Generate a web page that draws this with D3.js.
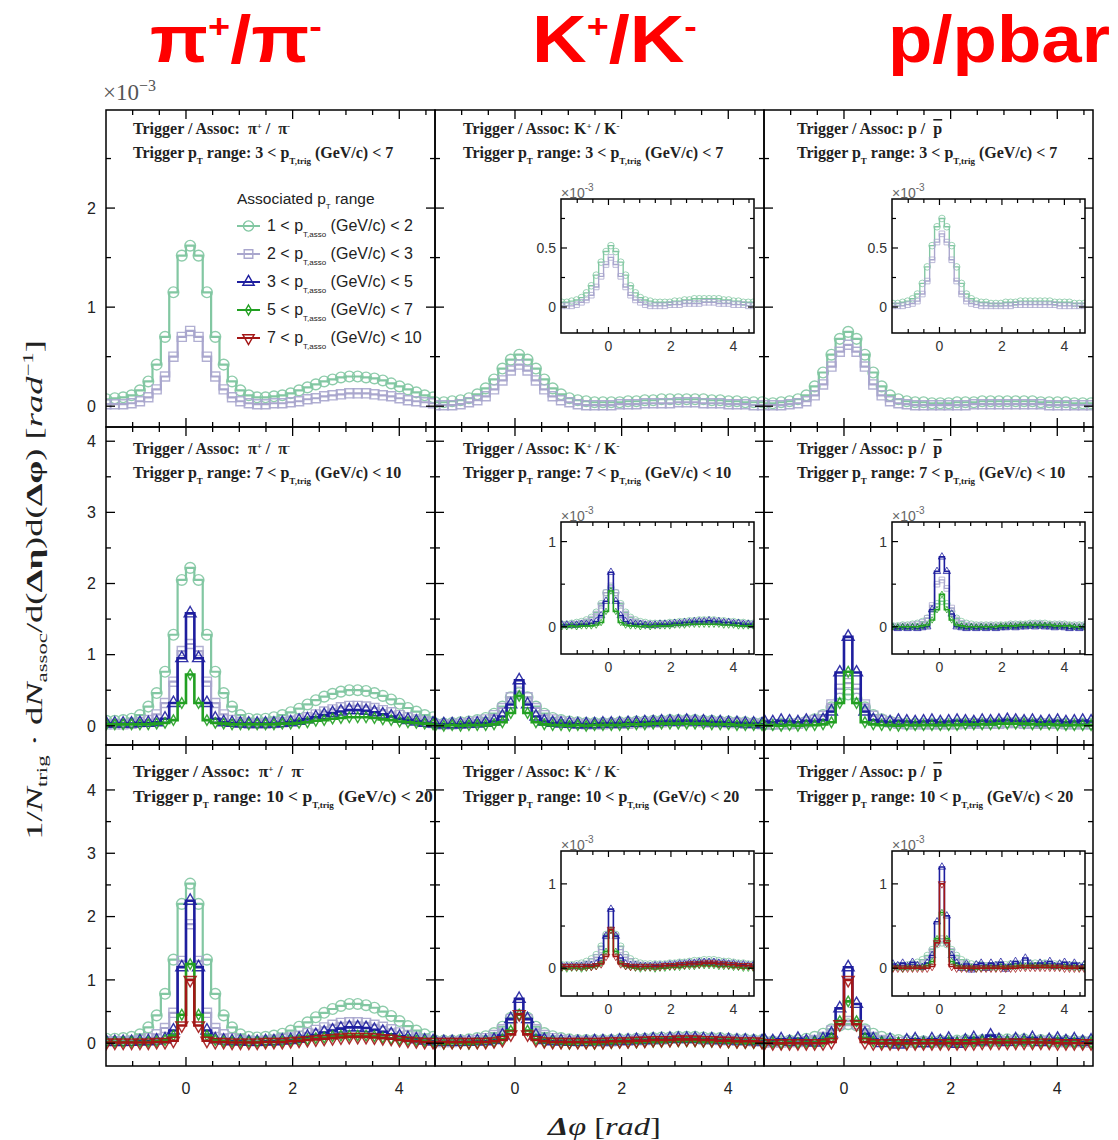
<!DOCTYPE html>
<html>
<head>
<meta charset="utf-8">
<script src="https://cdn.jsdelivr.net/npm/d3@7"></script>
<style>
  body { margin: 0; background: #fff; }
</style>
</head>
<body>
<div id="chart"></div>
<script>
// 40 bins of pi/20 in delta-phi, starting at -pi/2
var nBins = 40, binW = Math.PI / 20, phiMin = -Math.PI / 2;

// labels
var trigRanges = [["3", "7"], ["7", "10"], ["10", "20"]];
var assocRanges = [["1", "2"], ["2", "3"], ["3", "5"], ["5", "7"], ["7", "10"]];
var xTickLabels = [0, 2, 4];
var yTickLabels = [[0, 1, 2], [0, 1, 2, 3, 4], [0, 1, 2, 3, 4]];
var insetYTickLabels = [[0, 0.5], [0, 1], [0, 1]];

// ---- trigger 3-7 (x1e-3 rad^-1) ----
var pi37_a12 = [0.07,0.08,0.09,0.11,0.16,0.25,0.42,0.70,1.15,1.52,
                1.62,1.52,1.15,0.70,0.42,0.25,0.16,0.11,0.09,0.09,
                0.10,0.11,0.13,0.16,0.19,0.22,0.25,0.27,0.29,0.30,
                0.30,0.29,0.28,0.26,0.23,0.20,0.17,0.14,0.11,0.09];
var pi37_a23 = [0.02,0.02,0.02,0.03,0.05,0.09,0.17,0.30,0.50,0.70,
                0.76,0.70,0.50,0.30,0.17,0.09,0.05,0.03,0.02,0.02,
                0.03,0.03,0.04,0.05,0.07,0.08,0.10,0.11,0.12,0.13,
                0.13,0.13,0.12,0.11,0.10,0.08,0.06,0.05,0.04,0.03];
var k37_a12 = [0.04,0.04,0.05,0.06,0.08,0.12,0.18,0.27,0.38,0.47,
               0.52,0.47,0.38,0.27,0.18,0.12,0.08,0.06,0.05,0.04,
               0.04,0.04,0.04,0.05,0.05,0.06,0.06,0.07,0.07,0.07,
               0.07,0.07,0.07,0.06,0.06,0.05,0.05,0.04,0.04,0.04];
var k37_a23 = [0.01,0.01,0.01,0.02,0.04,0.06,0.10,0.17,0.26,0.36,
               0.42,0.36,0.26,0.17,0.10,0.06,0.04,0.02,0.01,0.01,
               0.01,0.01,0.02,0.02,0.02,0.03,0.03,0.03,0.03,0.04,
               0.04,0.04,0.03,0.03,0.03,0.02,0.02,0.02,0.01,0.01];
var p37_a12 = [0.03,0.03,0.04,0.05,0.07,0.11,0.20,0.34,0.52,0.68,
               0.75,0.68,0.52,0.34,0.20,0.11,0.07,0.05,0.04,0.04,
               0.03,0.03,0.03,0.04,0.04,0.04,0.05,0.05,0.05,0.05,
               0.05,0.05,0.05,0.04,0.04,0.04,0.04,0.03,0.03,0.03];
var p37_a23 = [0.01,0.01,0.01,0.02,0.03,0.05,0.11,0.22,0.40,0.55,
               0.62,0.55,0.40,0.22,0.11,0.05,0.03,0.02,0.01,0.01,
               0.01,0.01,0.01,0.01,0.01,0.02,0.02,0.02,0.02,0.02,
               0.02,0.02,0.02,0.02,0.01,0.01,0.01,0.01,0.01,0.01];

// ---- trigger 7-10 ----
var pi710_a12 = [0.07,0.07,0.08,0.10,0.15,0.27,0.46,0.76,1.28,2.05,
                 2.22,2.05,1.28,0.76,0.46,0.27,0.15,0.10,0.09,0.10,
                 0.12,0.15,0.19,0.24,0.30,0.36,0.41,0.45,0.48,0.50,
                 0.50,0.49,0.46,0.42,0.37,0.31,0.25,0.20,0.15,0.12];
var pi710_a23 = [0.02,0.02,0.02,0.03,0.05,0.08,0.16,0.32,0.62,1.05,
                 1.15,1.05,0.62,0.32,0.16,0.08,0.05,0.03,0.03,0.03,
                 0.04,0.05,0.07,0.09,0.12,0.16,0.20,0.23,0.26,0.28,
                 0.28,0.27,0.25,0.22,0.19,0.15,0.12,0.09,0.06,0.04];
var pi710_a35 = [0.03,0.03,0.03,0.03,0.04,0.04,0.05,0.10,0.32,0.95,
                 1.58,0.95,0.32,0.10,0.05,0.04,0.03,0.03,0.03,0.03,
                 0.03,0.04,0.05,0.07,0.09,0.12,0.15,0.18,0.20,0.22,
                 0.22,0.21,0.19,0.16,0.13,0.10,0.08,0.06,0.04,0.03];
var pi710_a57 = [0.02,0.02,0.02,0.02,0.02,0.02,0.03,0.04,0.08,0.32,
                 0.72,0.32,0.08,0.04,0.03,0.02,0.02,0.02,0.02,0.02,
                 0.02,0.03,0.03,0.04,0.05,0.07,0.08,0.10,0.11,0.12,
                 0.12,0.12,0.11,0.09,0.08,0.06,0.05,0.04,0.03,0.02];
var k710_a12 = [0.03,0.03,0.04,0.05,0.06,0.08,0.11,0.17,0.27,0.40,
                0.46,0.40,0.27,0.17,0.11,0.08,0.06,0.05,0.04,0.04,
                0.04,0.04,0.05,0.05,0.06,0.06,0.07,0.07,0.08,0.08,
                0.08,0.08,0.07,0.07,0.06,0.06,0.05,0.05,0.04,0.04];
var k710_a23 = [0.02,0.02,0.02,0.03,0.04,0.06,0.09,0.15,0.25,0.40,
                0.48,0.40,0.25,0.15,0.09,0.06,0.04,0.03,0.02,0.02,
                0.02,0.03,0.03,0.03,0.04,0.04,0.05,0.05,0.06,0.06,
                0.06,0.06,0.05,0.05,0.05,0.04,0.04,0.03,0.03,0.02];
var k710_a35 = [0.02,0.02,0.02,0.02,0.03,0.03,0.04,0.06,0.13,0.30,
                0.64,0.30,0.13,0.06,0.04,0.03,0.03,0.02,0.02,0.02,
                0.03,0.03,0.03,0.04,0.04,0.05,0.05,0.06,0.06,0.06,
                0.07,0.06,0.06,0.05,0.05,0.04,0.04,0.03,0.03,0.02];
var k710_a57 = [0.00,0.00,0.01,0.00,0.01,0.01,0.01,0.02,0.05,0.18,
                0.42,0.18,0.05,0.02,0.01,0.01,0.00,0.01,0.00,0.01,
                0.01,0.01,0.01,0.02,0.02,0.02,0.03,0.03,0.03,0.03,
                0.03,0.03,0.03,0.02,0.02,0.02,0.01,0.01,0.01,0.01];
var p710_a12 = [0.02,0.02,0.03,0.03,0.04,0.06,0.09,0.15,0.26,0.38,
                0.44,0.38,0.26,0.15,0.09,0.06,0.04,0.03,0.03,0.03,
                0.03,0.03,0.03,0.03,0.04,0.04,0.04,0.04,0.05,0.05,
                0.05,0.05,0.04,0.04,0.04,0.04,0.03,0.03,0.03,0.03];
var p710_a23 = [0.02,0.02,0.02,0.02,0.03,0.05,0.08,0.14,0.30,0.52,
                0.60,0.52,0.30,0.14,0.08,0.05,0.03,0.02,0.02,0.02,
                0.02,0.02,0.02,0.02,0.03,0.03,0.03,0.03,0.03,0.04,
                0.04,0.03,0.03,0.03,0.03,0.03,0.02,0.02,0.02,0.02];
var p710_a35 = [0.06,0.05,0.07,0.06,0.05,0.07,0.06,0.08,0.20,0.75,
                1.25,0.75,0.20,0.08,0.06,0.05,0.07,0.06,0.05,0.06,
                0.07,0.05,0.06,0.07,0.06,0.05,0.07,0.06,0.07,0.08,
                0.07,0.06,0.07,0.05,0.06,0.07,0.05,0.06,0.07,0.06];
var p710_a57 = [0.00,0.01,0.00,0.01,0.00,0.01,0.01,0.02,0.05,0.32,
                0.76,0.32,0.05,0.02,0.01,0.01,0.00,0.01,0.01,0.01,
                0.01,0.01,0.01,0.01,0.02,0.02,0.02,0.02,0.03,0.03,
                0.03,0.03,0.02,0.02,0.02,0.01,0.01,0.01,0.01,0.01];
// the inset of the p 7-10 panel shows other values than its main frame
var p710i_a12 = [0.01,0.01,0.02,0.02,0.03,0.04,0.06,0.10,0.18,0.27,
                 0.30,0.27,0.18,0.10,0.06,0.04,0.03,0.02,0.02,0.02,
                 0.02,0.02,0.02,0.02,0.03,0.03,0.03,0.03,0.04,0.04,
                 0.04,0.04,0.03,0.03,0.03,0.03,0.02,0.02,0.02,0.02];
var p710i_a23 = [0.00,0.00,0.01,0.01,0.02,0.03,0.05,0.10,0.25,0.50,
                 0.55,0.45,0.22,0.08,0.04,0.02,0.01,0.01,0.01,0.01,
                 0.01,0.01,0.01,0.01,0.02,0.02,0.02,0.02,0.02,0.03,
                 0.03,0.02,0.02,0.02,0.02,0.02,0.01,0.01,0.01,0.01];
var p710i_a35 = [-0.01,-0.02,-0.01,-0.02,-0.01,-0.02,-0.01,0.00,0.20,0.65,
                 0.82,0.65,0.15,0.00,-0.01,-0.02,-0.01,-0.02,-0.01,-0.02,
                 -0.01,-0.02,-0.01,-0.01,0.00,-0.01,0.00,0.00,0.01,0.00,
                 0.01,0.00,0.00,-0.01,0.00,-0.01,-0.02,-0.01,-0.02,-0.01];
var p710i_a57 = [0.00,0.00,0.00,0.00,0.00,0.00,0.01,0.02,0.08,0.20,
                 0.38,0.20,0.08,0.02,0.01,0.00,0.00,0.00,0.00,0.00,
                 0.00,0.00,0.01,0.01,0.01,0.01,0.02,0.02,0.02,0.02,
                 0.02,0.02,0.02,0.01,0.01,0.01,0.01,0.00,0.00,0.00];

// ---- trigger 10-20 ----
var pi1020_a12 = [0.07,0.07,0.08,0.10,0.14,0.25,0.44,0.78,1.32,2.20,
                  2.52,2.20,1.32,0.78,0.44,0.25,0.14,0.10,0.09,0.10,
                  0.12,0.15,0.20,0.26,0.33,0.41,0.48,0.54,0.59,0.62,
                  0.62,0.60,0.56,0.50,0.43,0.35,0.27,0.20,0.14,0.10];
var pi1020_a23 = [0.03,0.03,0.03,0.04,0.05,0.08,0.14,0.24,0.48,1.30,
                  1.88,1.30,0.48,0.24,0.14,0.08,0.05,0.04,0.03,0.04,
                  0.05,0.07,0.09,0.12,0.16,0.21,0.25,0.29,0.32,0.33,
                  0.33,0.32,0.29,0.26,0.22,0.17,0.13,0.09,0.06,0.04];
var pi1020_a35 = [0.02,0.02,0.02,0.02,0.03,0.03,0.04,0.06,0.20,1.20,
                  2.25,1.20,0.20,0.06,0.04,0.03,0.03,0.02,0.02,0.03,
                  0.03,0.04,0.05,0.07,0.10,0.13,0.17,0.20,0.23,0.25,
                  0.25,0.24,0.21,0.18,0.14,0.11,0.08,0.06,0.04,0.03];
var pi1020_a57 = [0.02,0.02,0.02,0.02,0.02,0.02,0.03,0.05,0.12,0.45,
                  1.25,0.45,0.12,0.05,0.03,0.02,0.02,0.02,0.02,0.02,
                  0.02,0.03,0.04,0.05,0.06,0.08,0.09,0.11,0.12,0.12,
                  0.12,0.12,0.11,0.09,0.07,0.06,0.05,0.04,0.03,0.02];
var pi1020_a710 = [0.01,0.01,0.01,0.01,0.01,0.01,0.02,0.02,0.04,0.28,
                   1.00,0.28,0.04,0.02,0.02,0.01,0.01,0.01,0.01,0.02,
                   0.02,0.02,0.03,0.04,0.05,0.06,0.07,0.08,0.09,0.10,
                   0.10,0.10,0.09,0.08,0.07,0.05,0.04,0.03,0.02,0.02];
var k1020_a12 = [0.04,0.04,0.04,0.05,0.06,0.08,0.11,0.16,0.26,0.40,
                 0.45,0.40,0.26,0.16,0.11,0.08,0.06,0.05,0.05,0.05,
                 0.05,0.05,0.06,0.06,0.07,0.07,0.08,0.09,0.09,0.10,
                 0.10,0.10,0.09,0.08,0.08,0.07,0.06,0.06,0.05,0.05];
var k1020_a23 = [0.02,0.02,0.02,0.03,0.04,0.05,0.08,0.13,0.22,0.38,
                 0.45,0.38,0.22,0.13,0.08,0.05,0.04,0.03,0.03,0.03,
                 0.03,0.03,0.04,0.04,0.05,0.05,0.06,0.06,0.07,0.07,
                 0.07,0.07,0.06,0.06,0.05,0.05,0.04,0.04,0.03,0.03];
var k1020_a35 = [0.02,0.02,0.02,0.02,0.02,0.03,0.03,0.05,0.12,0.38,
                 0.70,0.38,0.12,0.05,0.03,0.03,0.02,0.02,0.02,0.03,
                 0.03,0.03,0.04,0.04,0.05,0.05,0.06,0.06,0.07,0.07,
                 0.07,0.07,0.06,0.06,0.05,0.05,0.04,0.04,0.03,0.03];
var k1020_a57 = [0.00,-0.01,0.00,0.00,-0.01,0.00,0.01,0.02,0.06,0.20,
                 0.45,0.20,0.06,0.02,0.01,0.00,-0.01,0.00,0.00,-0.01,
                 0.00,0.00,0.01,0.01,0.01,0.02,0.02,0.02,0.03,0.03,
                 0.03,0.03,0.02,0.02,0.02,0.01,0.01,0.00,0.00,0.00];
var k1020_a710 = [0.02,0.02,0.02,0.02,0.02,0.02,0.02,0.03,0.05,0.14,
                  0.46,0.14,0.05,0.03,0.02,0.02,0.02,0.02,0.02,0.02,
                  0.02,0.03,0.03,0.03,0.04,0.04,0.05,0.05,0.05,0.06,
                  0.06,0.06,0.05,0.05,0.04,0.04,0.03,0.03,0.03,0.02];
var p1020_a12 = [0.03,0.03,0.03,0.04,0.05,0.07,0.10,0.15,0.22,0.28,
                 0.30,0.28,0.22,0.15,0.10,0.07,0.05,0.04,0.04,0.03,
                 0.03,0.04,0.04,0.04,0.05,0.05,0.05,0.06,0.06,0.06,
                 0.06,0.06,0.05,0.05,0.05,0.04,0.04,0.04,0.03,0.03];
var p1020_a23 = [0.01,0.02,0.01,0.02,0.02,0.03,0.05,0.10,0.20,0.30,
                 0.35,0.30,0.20,0.10,0.05,0.03,0.02,0.02,0.01,0.02,
                 0.01,0.02,0.02,0.02,0.02,0.03,0.03,0.03,0.03,0.03,
                 0.04,0.03,0.03,0.03,0.03,0.02,0.02,0.02,0.02,0.01];
var p1020_a35 = [0.05,0.03,0.06,0.02,0.07,0.03,0.01,0.06,0.15,0.55,
                 1.20,0.62,0.15,0.06,0.00,0.05,-0.02,0.04,0.06,0.00,
                 0.06,0.03,0.07,-0.01,0.04,0.08,0.03,0.12,0.05,0.02,
                 0.06,0.04,0.08,0.02,0.05,0.07,0.03,0.06,0.02,0.04];
var p1020_a57 = [0.00,0.01,-0.01,0.01,0.00,0.01,0.01,0.03,0.08,0.35,
                 0.66,0.35,0.08,0.03,0.01,0.00,0.01,-0.01,0.00,0.01,
                 0.01,0.00,0.02,0.01,0.02,0.02,0.03,0.02,0.03,0.03,
                 0.02,0.03,0.02,0.02,0.01,0.02,0.01,0.01,0.00,0.01];
var p1020_a710 = [0.00,0.00,0.00,0.00,0.00,0.00,0.00,0.00,0.02,0.30,
                  1.00,0.30,0.02,0.00,0.00,0.00,0.00,0.00,0.00,0.00,
                  0.00,0.00,0.00,0.00,0.00,0.00,0.01,0.01,0.01,0.01,
                  0.01,0.01,0.01,0.01,0.01,0.00,0.00,0.00,0.00,0.00];

// panel table: [row = trigger range][col = species] -> list of series
var panelSeries = [
  [[pi37_a12, pi37_a23], [k37_a12, k37_a23], [p37_a12, p37_a23]],
  [[pi710_a12, pi710_a23, pi710_a35, pi710_a57],
   [k710_a12, k710_a23, k710_a35, k710_a57],
   [p710_a12, p710_a23, p710_a35, p710_a57]],
  [[pi1020_a12, pi1020_a23, pi1020_a35, pi1020_a57, pi1020_a710],
   [k1020_a12, k1020_a23, k1020_a35, k1020_a57, k1020_a710],
   [p1020_a12, p1020_a23, p1020_a35, p1020_a57, p1020_a710]]
];
var insetOverride = { "1-2": [p710i_a12, p710i_a23, p710i_a35, p710i_a57] };

// ---------------- layout / style ----------------
var fontSans = "'Liberation Sans', Arial, sans-serif";
var fontSerif = "'Liberation Serif', 'Times New Roman', serif";
var colors = ["#82c7a2", "#a9a6cd", "#1e1e9e", "#22a022", "#a31616"];
var symbols = [d3.symbolCircle, d3.symbolSquare, d3.symbolTriangle, d3.symbolDiamond, d3.symbolTriangle];
var symSize = [90, 82, 62, 32, 62];

var colLeft = [106, 435, 764], panelW = 329;
var rowTop = [110, 427, 745], rowH = [317, 318, 321];
var yDomains = [[-0.21, 2.99], [-0.27, 4.2], [-0.36, 4.71]];
var xDomain = [-1.5, 4.67];

var insetLeft = [0, 126, 128], insetW = 193;
var insetTop = [89, 95, 106], insetH = [134, 132, 145];
var insetYDomains = [[-0.22, 0.915], [-0.32, 1.23], [-0.33, 1.39]];
var insetYStep = [0.25, 0.5, 0.5];
var insetXDomain = [-1.52, 4.66];

var svg = d3.select("#chart").append("svg")
    .attr("width", 1118).attr("height", 1140)
    .style("font-family", fontSans);
var defs = svg.append("defs");

// text with sub/superscripts made of tspans
function rich(parent, x, y, parts, size, family) {
  var t = parent.append("text").attr("x", x).attr("y", y)
      .attr("font-size", size).attr("font-family", family || fontSans);
  var cur = 0;
  parts.forEach(function(p) {
    if (typeof p === "string") p = {t: p};
    var off = p.sub ? p.sub : (p.sup ? -p.sup : 0);
    var ts = t.append("tspan").attr("dy", off - cur).text(p.t);
    cur = off;
    if (p.size) ts.attr("font-size", p.size);
    if (p.it) ts.attr("font-style", "italic");
    if (p.b) ts.attr("font-weight", "bold");
    if (p.over) ts.attr("text-decoration", "overline");
  });
  return t;
}

function binEdge(i) { return phiMin + i * binW; }

function drawSeries(g, x, y, vals, si, k) {
  var pts = vals.map(function(v, i) { return [binEdge(i), v]; });
  pts.push([binEdge(nBins), vals[nBins - 1]]);
  var line = d3.line()
      .x(function(d) { return x(d[0]); })
      .y(function(d) { return y(d[1]); })
      .curve(d3.curveStepAfter);
  g.append("path").attr("d", line(pts))
      .attr("fill", "none").attr("stroke", colors[si])
      .attr("stroke-width", (si < 2 ? 2.2 : 2.6) * k);
  var sym = d3.symbol().type(symbols[si]).size(symSize[si] * k * k);
  g.append("g").selectAll("path")
    .data(vals)
    .enter().append("path")
      .attr("d", sym)
      .attr("transform", function(d, i) {
        return "translate(" + x(binEdge(i) + binW / 2) + "," + y(d) + ")" + (si === 4 ? " rotate(180)" : "");
      })
      .attr("fill", "none")
      .attr("stroke", colors[si])
      .attr("stroke-width", 1.4 * k)
      .attr("opacity", 0.9);
}

function drawTicks(g, x, y, w, h, xTicks, yTicks, xMajor, yMajor, lenMaj, lenMin, sw) {
  xTicks.forEach(function(v) {
    var px = x(v); if (px < 1 || px > w - 1) return;
    var len = xMajor(v) ? lenMaj : lenMin;
    g.append("line").attr("x1", px).attr("x2", px).attr("y1", h).attr("y2", h - len)
      .attr("stroke", "#000").attr("stroke-width", sw);
    g.append("line").attr("x1", px).attr("x2", px).attr("y1", 0).attr("y2", len)
      .attr("stroke", "#000").attr("stroke-width", sw);
  });
  yTicks.forEach(function(v) {
    var py = y(v); if (py < 1 || py > h - 1) return;
    var len = yMajor(v) ? lenMaj : lenMin;
    g.append("line").attr("x1", 0).attr("x2", len).attr("y1", py).attr("y2", py)
      .attr("stroke", "#000").attr("stroke-width", sw);
    g.append("line").attr("x1", w).attr("x2", w - len).attr("y1", py).attr("y2", py)
      .attr("stroke", "#000").attr("stroke-width", sw);
  });
}

function isInt(v) { return Math.abs(v - Math.round(v)) < 1e-6; }

var annX = [27, 28, 33];
var ann1 = [24, 27, 32], ann2 = [48, 51, 57];
var nb = "\u00a0";

for (var r = 0; r < 3; r++) {
  for (var c = 0; c < 3; c++) {
    var g = svg.append("g").attr("transform", "translate(" + colLeft[c] + "," + rowTop[r] + ")");
    var x = d3.scaleLinear().domain(xDomain).range([0, panelW]);
    var y = d3.scaleLinear().domain(yDomains[r]).range([rowH[r], 0]);

    var cid = "clip" + r + c;
    defs.append("clipPath").attr("id", cid).append("rect")
        .attr("width", panelW).attr("height", rowH[r]);
    var plot = g.append("g").attr("clip-path", "url(#" + cid + ")");
    panelSeries[r][c].forEach(function(vals, si) { drawSeries(plot, x, y, vals, si, 1); });

    g.append("rect").attr("width", panelW).attr("height", rowH[r])
        .attr("fill", "none").attr("stroke", "#000").attr("stroke-width", 1.5);
    drawTicks(g, x, y, panelW, rowH[r],
      d3.range(-1.5, 4.7, 0.5), d3.range(0, yDomains[r][1], 0.5),
      function(v) { return xTickLabels.indexOf(v) >= 0; }, isInt, 9, 5, 1.3);

    // tick labels
    if (c === 0) {
      yTickLabels[r].forEach(function(v) {
        g.append("text").attr("x", -10).attr("y", y(v)).attr("dy", "0.36em")
          .attr("text-anchor", "end").attr("font-size", 16).attr("fill", "#222").text(v);
      });
    }
    if (r === 2) {
      xTickLabels.forEach(function(v) {
        g.append("text").attr("x", x(v)).attr("y", rowH[r] + 28)
          .attr("text-anchor", "middle").attr("font-size", 16).attr("fill", "#222").text(v);
      });
    }

    // annotation
    var fs = (r === 2 && c === 0) ? 17.5 : 16;
    var line1;
    if (c === 0) line1 = ["Trigger / Assoc:" + nb + nb + "\u03c0", {t: "+", sup: 5, size: 9}, nb + "/" + nb + nb + "\u03c0", {t: "-", sup: 5, size: 9}];
    if (c === 1) line1 = ["Trigger / Assoc: K", {t: "+", sup: 5, size: 9}, " / K", {t: "-", sup: 5, size: 9}];
    if (c === 2) line1 = ["Trigger / Assoc: p /" + nb + nb, {t: "p", over: true}];
    rich(g, annX[c], ann1[r], line1, fs, fontSerif).attr("font-weight", "bold").attr("fill", "#222");
    rich(g, annX[c], ann2[r], ["Trigger p", {t: "T", sub: 6, size: 9}, " range: " + trigRanges[r][0] + " < p",
      {t: "T,trig", sub: 6, size: 9}, " (GeV/c) < " + trigRanges[r][1]], fs, fontSerif)
      .attr("font-weight", "bold").attr("fill", "#222");

    // inset
    if (c > 0) {
      var ig = g.append("g").attr("transform", "translate(" + insetLeft[c] + "," + insetTop[r] + ")");
      var ih = insetH[r];
      ig.append("rect").attr("width", insetW).attr("height", ih).attr("fill", "#fff");
      var ix = d3.scaleLinear().domain(insetXDomain).range([0, insetW]);
      var iy = d3.scaleLinear().domain(insetYDomains[r]).range([ih, 0]);
      var icid = "iclip" + r + c;
      defs.append("clipPath").attr("id", icid).append("rect").attr("width", insetW).attr("height", ih);
      var iplot = ig.append("g").attr("clip-path", "url(#" + icid + ")");
      var iser = insetOverride[r + "-" + c] || panelSeries[r][c];
      iser.forEach(function(vals, si) { drawSeries(iplot, ix, iy, vals, si, 0.62); });
      ig.append("rect").attr("width", insetW).attr("height", ih)
          .attr("fill", "none").attr("stroke", "#000").attr("stroke-width", 1.5);
      drawTicks(ig, ix, iy, insetW, ih,
        d3.range(-1.5, 4.7, 0.5), d3.range(0, insetYDomains[r][1], insetYStep[r]),
        function(v) { return xTickLabels.indexOf(v) >= 0; },
        function(v) { return insetYTickLabels[r].indexOf(v) >= 0; }, 6, 4, 1.2);
      insetYTickLabels[r].forEach(function(v) {
        ig.append("text").attr("x", -5).attr("y", iy(v)).attr("dy", "0.36em")
          .attr("text-anchor", "end").attr("font-size", 14).attr("fill", "#333").text(v);
      });
      xTickLabels.forEach(function(v) {
        ig.append("text").attr("x", ix(v)).attr("y", ih + 18)
          .attr("text-anchor", "middle").attr("font-size", 14).attr("fill", "#333").text(v);
      });
      rich(ig, 0, -1, ["\u00d710", {t: "-3", sup: 7, size: 10}], 14).attr("fill", "#666");
    }

    // legend in first panel
    if (r === 0 && c === 0) {
      rich(g, 131, 94, ["Associated p", {t: "T", sub: 5, size: 8}, " range"], 15.5).attr("fill", "#222");
      assocRanges.forEach(function(a, i) {
        var ly = 121 + i * 28;
        var lg = g.append("g");
        lg.append("line").attr("x1", 131).attr("x2", 154).attr("y1", ly - 5).attr("y2", ly - 5)
          .attr("stroke", colors[i]).attr("stroke-width", 2);
        lg.append("path").attr("d", d3.symbol().type(symbols[i]).size(symSize[i] * 0.9))
          .attr("transform", "translate(142.5," + (ly - 5) + ")" + (i === 4 ? " rotate(180)" : ""))
          .attr("fill", "none").attr("stroke", colors[i]).attr("stroke-width", 1.4);
        rich(g, 161, ly, [a[0] + " < p", {t: "T,asso", sub: 6, size: 8}, " (GeV/c) < " + a[1]], 16)
          .attr("fill", "#222");
      });
    }
  }
}

// exponent over the top-left frame
rich(svg, 103, 100, ["\u00d710", {t: "\u22123", sup: 9, size: 16}], 23, fontSerif).attr("fill", "#555");

// species titles
function fitText(t, x, y, target) {
  var w = t.node().getBBox().width;
  t.attr("x", 0).attr("y", 0)
   .attr("transform", "translate(" + x + "," + y + ") scale(" + (target / w) + ",1)");
}
var titleParts = [
  ["\u03c0", {t: "+", sup: 24, size: 33}, "/\u03c0", {t: "-", sup: 24, size: 33}],
  ["K", {t: "+", sup: 24, size: 33}, "/K", {t: "-", sup: 24, size: 33}],
  ["p/pbar"]
];
var titleX = [150, 532, 888], titleW = [172, 165, 222];
titleParts.forEach(function(p, i) {
  var t = rich(svg, 0, 0, p, 66).attr("font-weight", "bold").attr("fill", "#f00");
  fitText(t, titleX[i], 62, titleW[i]);
});

// y axis title
var yt = rich(svg, 0, 0, ["1/", {t: "N", it: true}, {t: "trig", sub: 5, size: 15}, " \u00b7 d", {t: "N", it: true},
  {t: "assoc", sub: 5, size: 15}, "/d(", {t: "\u0394\u03b7", b: true}, ")d(", {t: "\u0394\u03c6", b: true},
  ") [", {t: "rad", it: true}, {t: "\u22121", sup: 9, size: 15}, "]"], 24, fontSerif)
  .attr("text-anchor", "middle").attr("fill", "#222");
var ytw = yt.node().getBBox().width;
yt.attr("transform", "translate(42,590) rotate(-90) scale(" + (500 / ytw) + ",1)");

// x axis title
var xt = rich(svg, 0, 0, [{t: "\u0394", b: true, it: true}, {t: "\u03c6", it: true}, " [", {t: "rad", it: true}, "]"], 26, fontSerif)
  .attr("fill", "#222");
fitText(xt, 548, 1135, 114);
</script>
</body>
</html>
